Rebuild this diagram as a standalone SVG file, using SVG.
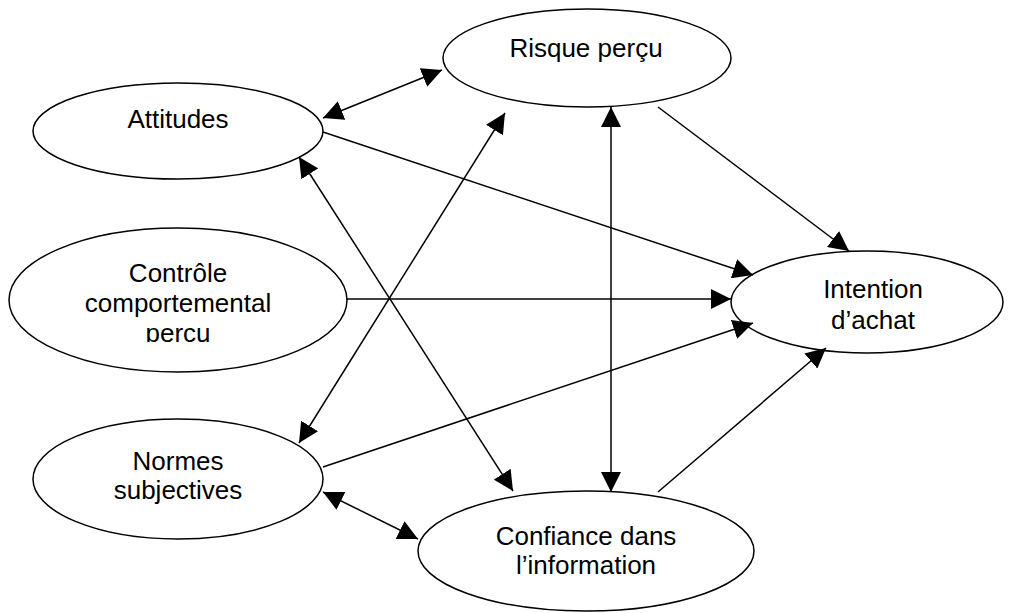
<svg xmlns="http://www.w3.org/2000/svg" width="1010" height="613" viewBox="0 0 1010 613">
<style>
.n{fill:#fff;stroke:#000;stroke-width:1.5}
.t{font-family:"Liberation Sans",Arial,sans-serif;font-size:26px;fill:#000;text-anchor:middle}
.c{stroke:#000;stroke-width:1.5;fill:none}
.a{marker-end:url(#ah)}
.b{marker-start:url(#ah);marker-end:url(#ah)}
</style>
<defs>
<marker id="ah" markerUnits="userSpaceOnUse" markerWidth="20" markerHeight="20" viewBox="0 0 20 20" refX="20" refY="10" orient="auto-start-reverse">
<path d="M0,0 L20,10 L0,20 z" fill="#000"/>
</marker>
<clipPath id="clipC"><rect x="0" y="220" width="360" height="122"/></clipPath>
</defs>
<rect width="1010" height="613" fill="#fff"/>
<g id="attitudes"><ellipse class="n" cx="178" cy="131" rx="145" ry="48"/><text class="t" x="178" y="128">Attitudes</text></g>
<g id="risque"><ellipse class="n" cx="587" cy="58" rx="144" ry="49"/><text class="t" x="586" y="57">Risque perçu</text></g>
<g id="controle"><ellipse class="n" cx="178" cy="300" rx="169" ry="72"/><g clip-path="url(#clipC)"><text class="t" x="178" y="282">Contrôle</text><text class="t" x="178" y="312">comportemental</text><text class="t" x="178" y="342">perçu</text></g></g>
<g id="normes"><ellipse class="n" cx="178" cy="479" rx="145" ry="60"/><text class="t" x="178" y="470">Normes</text><text class="t" x="178" y="499">subjectives</text></g>
<g id="confiance"><ellipse class="n" cx="586" cy="551" rx="168" ry="60"/><text class="t" x="586" y="545">Confiance dans</text><text class="t" x="586" y="574">l’information</text></g>
<g id="intention"><ellipse class="n" cx="867" cy="302" rx="136" ry="51"/><text class="t" x="873" y="298">Intention</text><text class="t" x="873" y="329">d’achat</text></g>
<g id="connectors">
<line class="c b" x1="323" y1="118" x2="442" y2="70"/>
<line class="c a" x1="323" y1="132" x2="753" y2="275"/>
<line class="c a" x1="658" y1="107" x2="849" y2="251"/>
<line class="c b" x1="611" y1="107" x2="611" y2="492"/>
<line class="c a" x1="347" y1="299" x2="731" y2="299"/>
<line class="c b" x1="505" y1="113" x2="299" y2="443"/>
<line class="c b" x1="299" y1="157" x2="513" y2="491"/>
<line class="c a" x1="323" y1="467" x2="753" y2="323"/>
<line class="c b" x1="323" y1="492" x2="418" y2="539"/>
<line class="c a" x1="658" y1="492" x2="826" y2="348"/>
</g>
</svg>
